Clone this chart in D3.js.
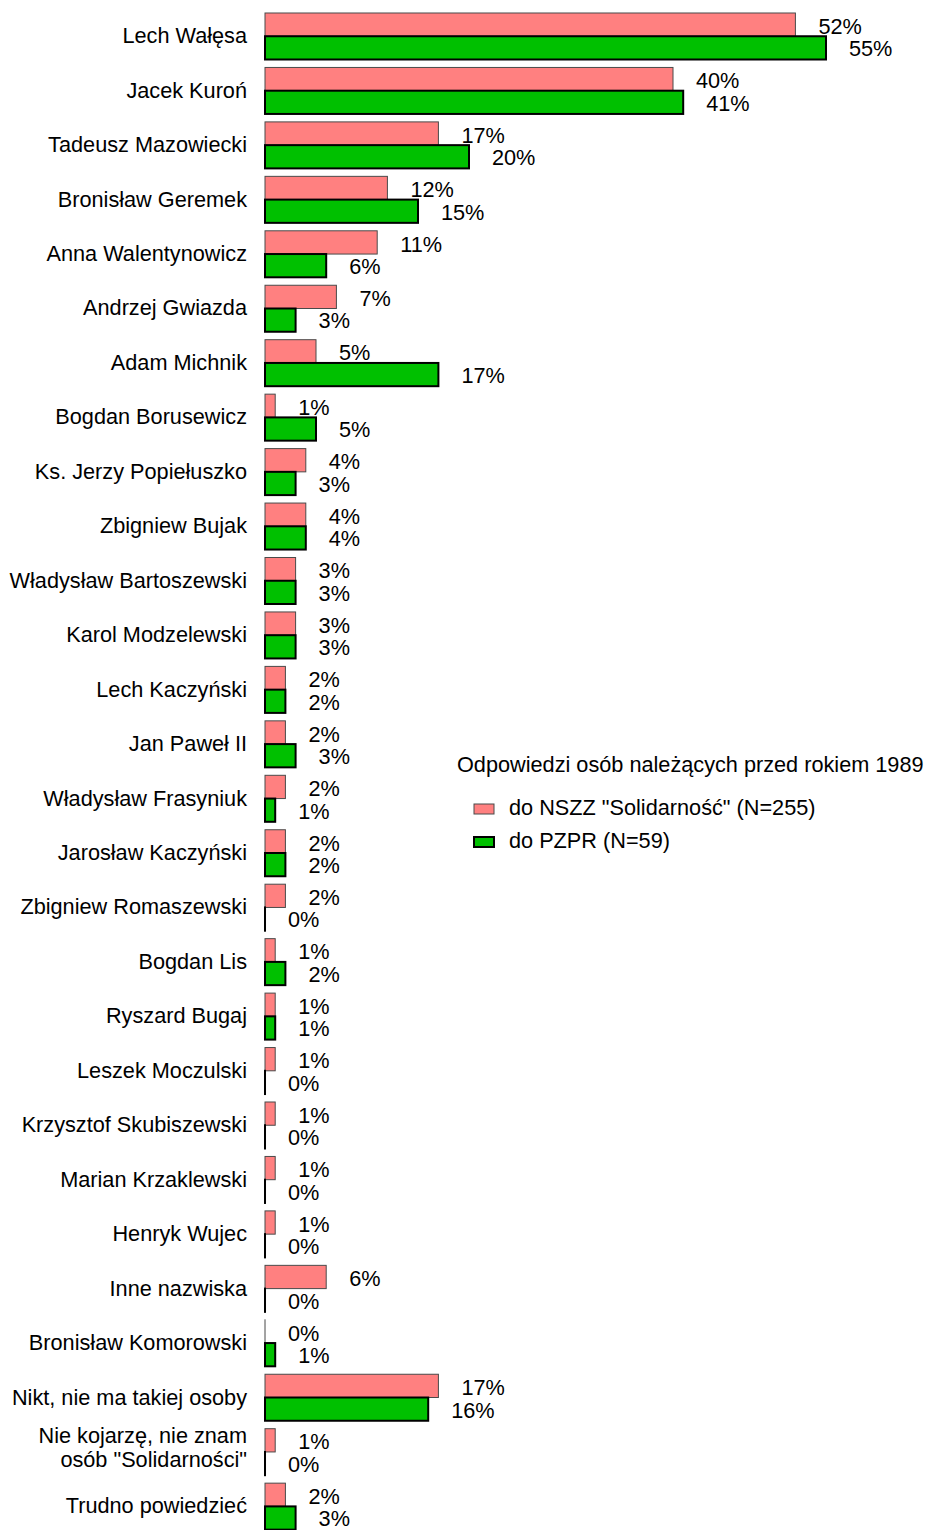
<!DOCTYPE html>
<html><head><meta charset="utf-8">
<script src="https://cdn.jsdelivr.net/npm/d3@7"></script>
<style>body{margin:0;background:#fff}svg{display:block}text{font-family:"Liberation Sans",Arial,sans-serif;fill:#000}</style>
</head><body>
<script>
const categories = ["Lech Wałęsa","Jacek Kuroń","Tadeusz Mazowiecki","Bronisław Geremek","Anna Walentynowicz","Andrzej Gwiazda","Adam Michnik","Bogdan Borusewicz","Ks. Jerzy Popiełuszko","Zbigniew Bujak","Władysław Bartoszewski","Karol Modzelewski","Lech Kaczyński","Jan Paweł II","Władysław Frasyniuk","Jarosław Kaczyński","Zbigniew Romaszewski","Bogdan Lis","Ryszard Bugaj","Leszek Moczulski","Krzysztof Skubiszewski","Marian Krzaklewski","Henryk Wujec","Inne nazwiska","Bronisław Komorowski","Nikt, nie ma takiej osoby","Nie kojarzę, nie znam\nosób \"Solidarności\"","Trudno powiedzieć"];
const solidarnosc = [52,40,17,12,11,7,5,1,4,4,3,3,2,2,2,2,2,1,1,1,1,1,1,6,0,17,1,2];
const pzpr = [55,41,20,15,6,3,17,5,3,4,3,3,2,3,1,2,0,2,1,0,0,0,0,0,1,16,0,3];
const seriesNames = ["do NSZZ \"Solidarność\" (N=255)","do PZPR (N=59)"];
const legendTitle = "Odpowiedzi osób należących przed rokiem 1989";

const W = 928, H = 1530, FS = 21.7;
const svg = d3.select("body").append("svg").attr("width", W).attr("height", H);

const x = d3.scaleLinear().domain([0, 55]).range([265, 826]);
const y = d3.scaleBand().domain(d3.range(categories.length)).range([5.05, 1537.6]).padding(0.146);
const sub = d3.scaleBand().domain([0, 1]).range([0, y.bandwidth()]);
const colors = ["#FF8080", "#00C000"];
const strokes = ["#4a4a4a", "#000"];
const sw = [1, 2];

const rows = categories.map((c, i) => ({c, i, v: [solidarnosc[i], pzpr[i]]}));

const g = svg.append("g");
rows.forEach(r => {
  const cy = y(r.i) + y.bandwidth() / 2;
  const lines = r.c.split("\n");
  const t = g.append("text").attr("x", 247).attr("text-anchor", "end").attr("font-size", FS);
  if (lines.length === 1) {
    t.attr("y", cy + 7).text(r.c);
  } else {
    lines.forEach((ln, k) => t.append("tspan").attr("x", 247).attr("y", cy - 9 + k * 24).text(ln));
  }
  [0, 1].forEach(s => {
    g.append("rect")
      .attr("x", x(0)).attr("y", y(r.i) + sub(s))
      .attr("width", Math.max(x(r.v[s]) - x(0), 0.01)).attr("height", sub.bandwidth())
      .attr("fill", colors[s]).attr("stroke", strokes[s]).attr("stroke-width", sw[s]);
    g.append("text")
      .attr("x", x(r.v[s]) + 23)
      .attr("y", s === 0 ? cy - 2.5 : cy + 20)
      .attr("font-size", FS)
      .text(r.v[s] + "%");
  });
});

const lg = svg.append("g");
lg.append("text").attr("x", 457).attr("y", 772).attr("font-size", FS).text(legendTitle);
seriesNames.forEach((n, s) => {
  const cy = 809 + s * 33;
  lg.append("rect").attr("x", 474).attr("y", cy - 5).attr("width", 20).attr("height", 10)
    .attr("fill", colors[s]).attr("stroke", strokes[s]).attr("stroke-width", sw[s]);
  lg.append("text").attr("x", 509).attr("y", cy + 6).attr("font-size", FS).text(n);
});
</script>
</body></html>
